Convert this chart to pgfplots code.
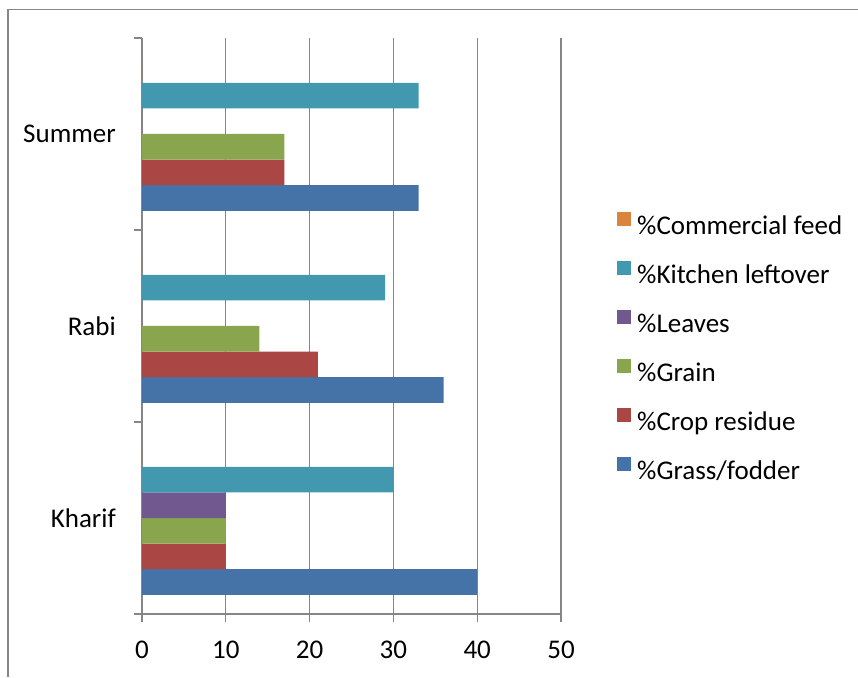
\documentclass[border=0pt]{standalone}
\usepackage{fontspec}
\setmainfont{Carlito}
\usepackage{pgfplots}
\pgfplotsset{compat=1.18}
\definecolor{cGrass}{HTML}{4572A7}
\definecolor{cCrop}{HTML}{AA4643}
\definecolor{cGrain}{HTML}{89A54E}
\definecolor{cLeaves}{HTML}{71588F}
\definecolor{cKitchen}{HTML}{4198AF}
\definecolor{cComm}{HTML}{DB843D}
\definecolor{axgray}{HTML}{868686}
\begin{document}
\begin{tikzpicture}[x=1pt,y=1pt]
\useasboundingbox (0,0) rectangle (858,677);
\draw[axgray, line width=1.3pt] (8,0) -- (8,667.5) -- (858,667.5);
\begin{axis}[
  at={(142pt,63pt)}, anchor=south west,
  scale only axis, width=419pt, height=576pt,
  xmin=0, xmax=50, ymin=-0.5, ymax=2.5,
  xtick={0,10,20,30,40,50},
  ytick={-0.5,0.5,1.5,2.5}, yticklabels={},
  extra y ticks={0,1,2}, extra y tick labels={Kharif,Rabi,Summer},
  extra y tick style={major tick length=0pt},
  axis lines*=left,
  tick align=outside,
  major tick length=8pt,
  xmajorgrids,
  major grid style={axgray, line width=1.3pt},
  axis line style={axgray, line width=1.3pt, -},
  tick style={axgray, line width=1.3pt},
  /pgf/number format/assume math mode=true,
  ticklabel style={font=\fontsize{27}{32}\selectfont, text=black},
  xticklabel style={inner sep=0pt, yshift=-19pt},
  yticklabel style={inner sep=0pt, xshift=-26pt},
  xbar, bar width=0.13333,
  clip=false,
  legend style={at={(1.1337,0.698)}, anchor=north west, draw=none, fill=none,
    inner sep=0pt, row sep=21pt, column sep=6pt,
    font=\fontsize{27}{32}\selectfont,
    nodes={inner sep=0pt, text height=18pt, text depth=6pt}},
  legend cell align=left,
  reverse legend,
  legend image code/.code={\fill[#1] (0pt,2pt) rectangle (14pt,16pt);},
]
\addplot[fill=cGrass, draw=none, bar shift=-0.33333] coordinates {(40,0) (36,1) (33,2)};
\addlegendentry{\%Grass/fodder}
\addplot[fill=cCrop, draw=none, bar shift=-0.2] coordinates {(10,0) (21,1) (17,2)};
\addlegendentry{\%Crop residue}
\addplot[fill=cGrain, draw=none, bar shift=-0.066667] coordinates {(10,0) (14,1) (17,2)};
\addlegendentry{\%Grain}
\addplot[fill=cLeaves, draw=none, bar shift=0.066667] coordinates {(10,0) (0,1) (0,2)};
\addlegendentry{\%Leaves}
\addplot[fill=cKitchen, draw=none, bar shift=0.2] coordinates {(30,0) (29,1) (33,2)};
\addlegendentry{\%Kitchen leftover}
\addplot[fill=cComm, draw=none, bar shift=0.33333] coordinates {(0,0) (0,1) (0,2)};
\addlegendentry{\%Commercial feed}
\end{axis}
\end{tikzpicture}
\end{document}
